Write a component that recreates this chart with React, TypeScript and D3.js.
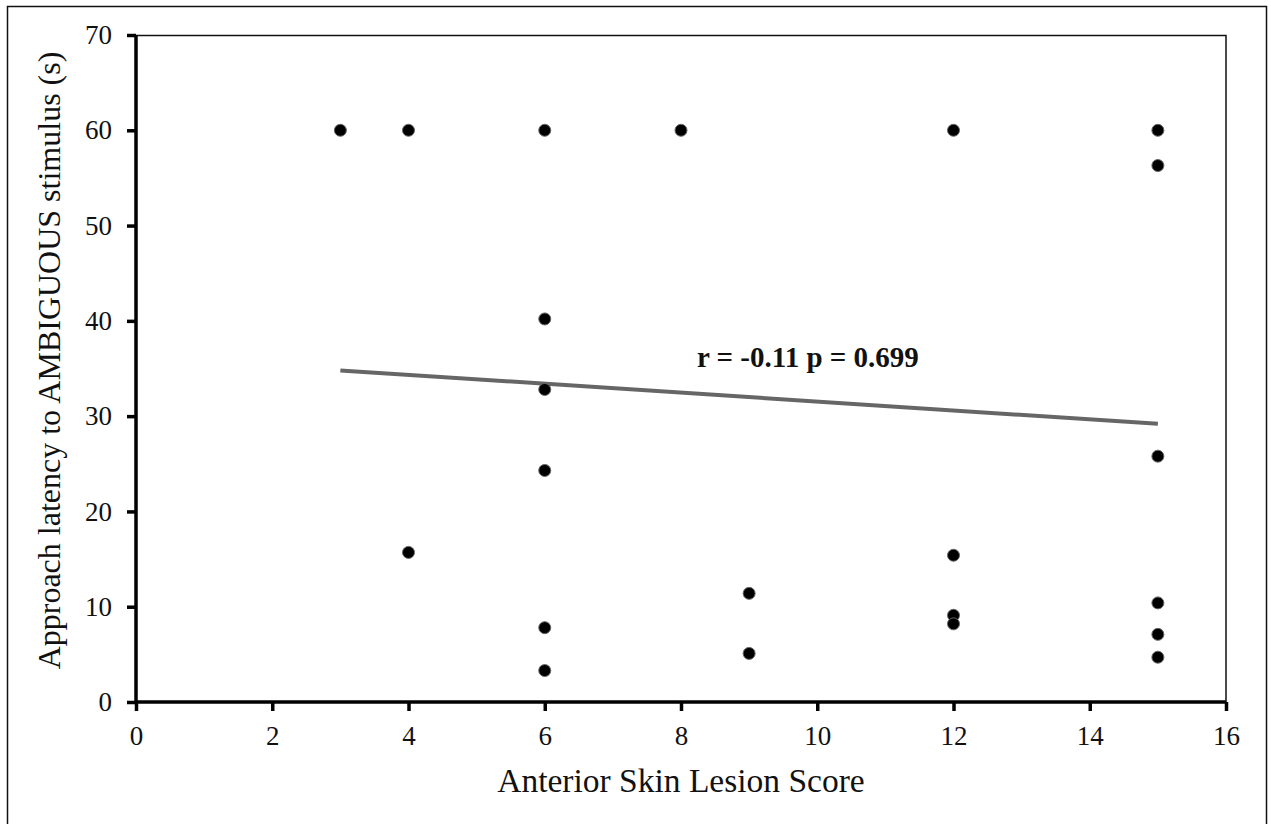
import React, { useEffect, useRef } from 'react';
import * as d3 from 'd3';

// Anterior skin lesion score vs approach latency (s)
const lesionScores = [3, 4, 6, 8, 12, 15, 15, 6, 6, 6, 6, 6, 4, 9, 9, 12, 12, 12, 15, 15, 15, 15];
const latencies = [60, 60, 60, 60, 60, 60, 56.3, 40.2, 32.8, 24.3, 7.8, 3.3, 15.7, 11.4, 5.1, 15.4, 9.1, 8.2, 25.8, 10.4, 7.1, 4.7];

// fitted regression line endpoints
const trendX = [3, 15];
const trendY = [34.8, 29.2];

const xTicks = [0, 2, 4, 6, 8, 10, 12, 14, 16];
const yTicks = [0, 10, 20, 30, 40, 50, 60, 70];

const statsLabel = 'r = -0.11 p = 0.699';
const xTitle = 'Anterior Skin Lesion Score';
const yTitle = 'Approach latency to AMBIGUOUS stimulus (s)';

const W = 1271;
const H = 824;

const App: React.FC = () => {
  const svgRef = useRef<SVGSVGElement>(null);

  useEffect(() => {
    if (!svgRef.current) return;
    const svg = d3.select(svgRef.current);
    svg.selectAll('*').remove();

    const font = '"Liberation Serif", "Times New Roman", serif';
    const margin = { top: 35, right: 45, bottom: 122, left: 136 };
    const innerW = W - margin.left - margin.right;
    const innerH = H - margin.top - margin.bottom;

    // outer frame
    svg.append('rect')
      .attr('x', 7.5).attr('y', 6.5)
      .attr('width', 1259).attr('height', 830)
      .attr('fill', 'white')
      .attr('stroke', '#111').attr('stroke-width', 1.5);

    const g = svg.append('g').attr('transform', `translate(${margin.left},${margin.top})`);

    const x = d3.scaleLinear().domain([0, 16]).range([0, innerW]);
    const y = d3.scaleLinear().domain([0, 70]).range([innerH, 0]);

    // top and right frame of plot area
    g.append('path')
      .attr('d', `M0,0.5H${innerW}V${innerH}`)
      .attr('fill', 'none')
      .attr('stroke', '#111')
      .attr('stroke-width', 1.5);

    const xAxis = g.append('g')
      .attr('transform', `translate(0,${innerH})`)
      .call(d3.axisBottom(x).tickValues(xTicks).tickSize(9).tickPadding(15).tickFormat(d3.format('d')));
    const yAxis = g.append('g')
      .call(d3.axisLeft(y).tickValues(yTicks).tickSize(9).tickPadding(15).tickFormat(d3.format('d')));

    [xAxis, yAxis].forEach(a => {
      a.select('.domain').attr('stroke', '#000').attr('stroke-width', 3.5);
      a.selectAll('.tick line').attr('stroke', '#000').attr('stroke-width', 3.5);
      a.selectAll('.tick text')
        .attr('fill', '#111')
        .attr('font-family', font)
        .attr('font-size', '27px');
    });
    xAxis.select('.domain').attr('d', `M0,0H${innerW}`);
    yAxis.select('.domain').attr('d', `M0,${innerH}V0`);

    // trend line
    const line = d3.line<number>()
      .x((_, i) => x(trendX[i]))
      .y(d => y(d));
    g.append('path')
      .datum(trendY)
      .attr('d', line)
      .attr('fill', 'none')
      .attr('stroke', '#666')
      .attr('stroke-width', 4);

    // points
    g.selectAll('circle.pt')
      .data(lesionScores.map((s, i) => ({ s, v: latencies[i] })))
      .enter()
      .append('circle')
      .attr('class', 'pt')
      .attr('cx', d => x(d.s))
      .attr('cy', d => y(d.v))
      .attr('r', 6)
      .attr('fill', '#000')
      .attr('stroke', '#666')
      .attr('stroke-width', 1);

    g.append('text')
      .attr('x', x(8.235))
      .attr('y', y(35.15))
      .attr('font-family', font)
      .attr('font-size', '29px')
      .attr('font-weight', 'bold')
      .attr('fill', '#111')
      .text(statsLabel);

    g.append('text')
      .attr('x', innerW / 2)
      .attr('y', innerH + 90)
      .attr('text-anchor', 'middle')
      .attr('font-family', font)
      .attr('font-size', '33.5px')
      .attr('fill', '#111')
      .text(xTitle);

    g.append('text')
      .attr('transform', `translate(${-76},${innerH / 2 - 8}) rotate(-90)`)
      .attr('text-anchor', 'middle')
      .attr('font-family', font)
      .attr('font-size', '32px')
      .attr('fill', '#111')
      .text(yTitle);
  }, []);

  return (
    <div style={{ position: 'absolute', left: 0, top: 0, width: W, height: H, background: 'white', overflow: 'hidden' }}>
      <svg ref={svgRef} width={W} height={H} />
    </div>
  );
};

export default App;
